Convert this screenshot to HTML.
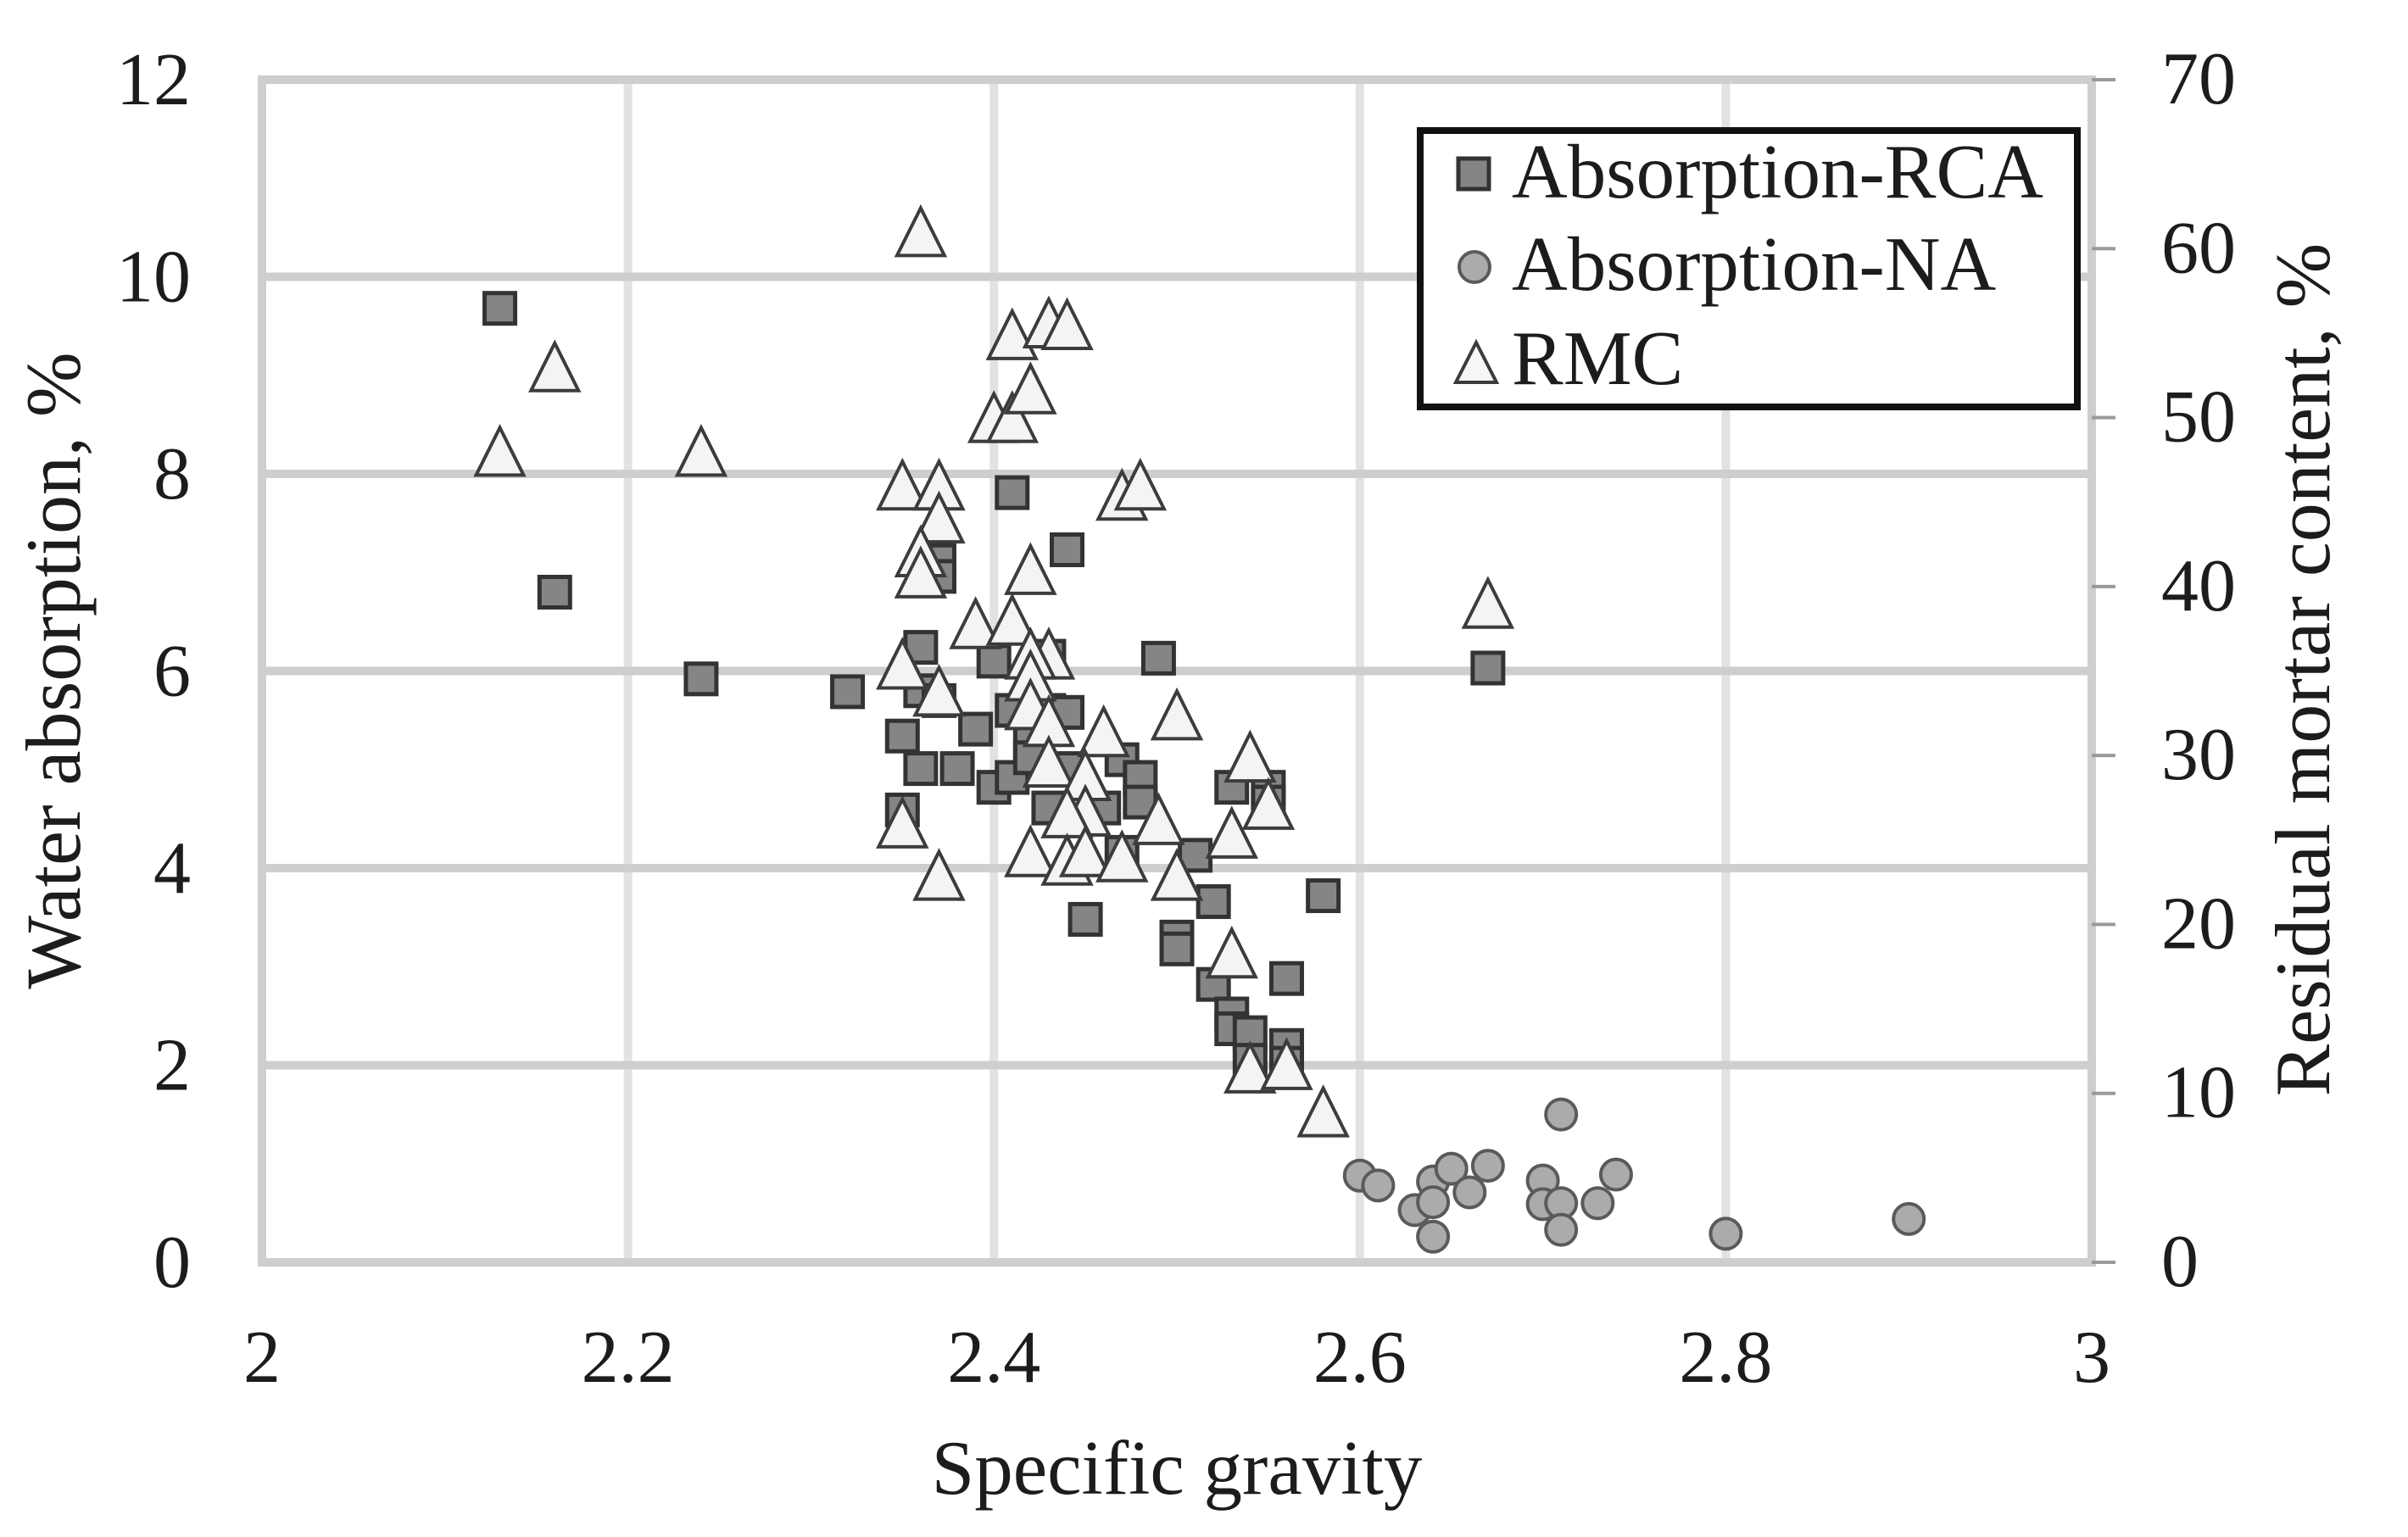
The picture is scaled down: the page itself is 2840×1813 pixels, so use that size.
<!DOCTYPE html>
<html lang="en">
<head>
<meta charset="utf-8">
<title>Water absorption and residual mortar content vs specific gravity</title>
<style>
html,body{margin:0;padding:0;background:#fff;}
svg{display:block;}
text{font-family:"Liberation Serif",serif;fill:#1c1c1c;}
</style>
</head>
<body>
<svg id="chart" xmlns="http://www.w3.org/2000/svg" width="2840" height="1813" viewBox="0 0 2840 1813">
  <rect x="0" y="0" width="2840" height="1813" fill="#ffffff"/>
  <g id="grid"></g>
  <g id="ticks"></g>
  <g id="rca"></g>
  <g id="na"></g>
  <g id="rmc"></g>
  <text x="1388" y="1762" font-size="91" text-anchor="middle">Specific gravity</text>
  <text transform="translate(94 791) rotate(-90)" font-size="92" text-anchor="middle">Water absorption, %</text>
  <text transform="translate(2747 790) rotate(-90)" font-size="92" text-anchor="middle">Residual mortar content, %</text>
  <g>
    <rect x="1675" y="154" width="775" height="326" fill="#ffffff" stroke="#111111" stroke-width="8"/>
    <rect x="1720" y="187" width="36" height="36" fill="#858585" stroke="#333333" stroke-width="5"/>
    <circle cx="1739" cy="315" r="18" fill="#ababab" stroke="#5a5a5a" stroke-width="4"/>
    <polygon points="1741,404 1765,451 1717,451" fill="#f6f6f6" stroke="#3c3c3c" stroke-width="4"/>
    <text x="1783" y="233" font-size="91">Absorption-RCA</text>
    <text x="1783" y="342" font-size="91">Absorption-NA</text>
    <text x="1783" y="453" font-size="91">RMC</text>
  </g>
</svg>
<script>
const xTickLabels = ["2", "2.2", "2.4", "2.6", "2.8", "3"];
const leftTickLabels = ["0", "2", "4", "6", "8", "10", "12"];
const rightTickLabels = ["0", "10", "20", "30", "40", "50", "60", "70"];

const rcaGravity = [2.13,2.16,2.24,2.32,2.35,2.35,2.36,2.36,2.36,2.37,2.37,2.37,2.38,2.39,2.40,2.40,2.41,2.41,2.41,2.42,2.42,2.43,2.43,2.43,2.44,2.44,2.44,2.45,2.46,2.47,2.47,2.48,2.48,2.49,2.50,2.50,2.51,2.52,2.52,2.53,2.53,2.53,2.54,2.54,2.55,2.55,2.56,2.56,2.56,2.58,2.67];
const rcaAbsorption = [9.68,6.8,5.92,5.79,5.34,4.59,5.01,6.24,5.8,5.7,7.12,6.96,5.01,5.41,6.1,4.82,7.81,5.6,4.92,5.28,5.12,6.15,5.6,4.61,7.23,5.58,5.01,3.48,4.61,5.1,4.16,4.92,4.67,6.13,3.3,3.18,4.13,3.66,2.82,4.82,2.52,2.37,2.33,2.05,4.82,4.67,2.88,2.2,2.02,3.72,6.03];

const naGravity = [2.60,2.61,2.63,2.64,2.64,2.64,2.65,2.66,2.67,2.70,2.70,2.71,2.71,2.71,2.73,2.74,2.80,2.90];
const naAbsorption = [0.88,0.78,0.53,0.82,0.61,0.26,0.95,0.71,0.98,0.83,0.59,1.5,0.6,0.33,0.6,0.89,0.29,0.44];

const rmcGravity = [2.13,2.16,2.24,2.35,2.37,2.37,2.36,2.36,2.47,2.48,2.42,2.39,2.41,2.43,2.42,2.42,2.35,2.37,2.42,2.43,2.46,2.50,2.54,2.43,2.45,2.45,2.44,2.49,2.55,2.53,2.42,2.44,2.45,2.47,2.50,2.35,2.37,2.36,2.41,2.43,2.44,2.40,2.41,2.42,2.67,2.53,2.54,2.56,2.58];
const rmcContent = [48,53,48,46,46,44.05,42.05,40.8,45.4,46,41,37.8,38,36,36,34.7,35.4,33.8,33,32,31.4,32.4,29.9,29.6,28.8,26.7,26.6,26.2,27.1,25.4,24.3,23.8,24.3,24,22.9,26,22.9,61,54.9,55.6,55.5,50,50,51.7,39,18.3,11.5,11.7,8.9];

const NS = "http://www.w3.org/2000/svg";
const plotLeft = 309, plotRight = 2467, plotTop = 94, plotBottom = 1489;
function xScale(v){ return plotLeft + (v - 2) / (3 - 2) * (plotRight - plotLeft); }
function yLeft(v){ return plotBottom - v / 12 * (plotBottom - plotTop); }
function yRight(v){ return plotBottom - v / 70 * (plotBottom - plotTop); }
function make(tag, parent, attrs){
  const el = document.createElementNS(NS, tag);
  for (const k in attrs) el.setAttribute(k, attrs[k]);
  parent.appendChild(el);
  return el;
}

const grid = document.getElementById("grid");
const ticks = document.getElementById("ticks");

xTickLabels.forEach(function(t){
  const px = xScale(parseFloat(t));
  const line = make("rect", grid, {x: px - 5, y: plotTop - 5, width: 10, height: plotBottom - plotTop + 10, fill: (t === "2" || t === "3") ? "#cecece" : "#e2e2e2"});
  
  
  const label = make("text", ticks, {x: px, y: 1630, "font-size": 88, "text-anchor": "middle"});
  label.textContent = t;
  
  
});

leftTickLabels.forEach(function(t){
  const py = yLeft(parseFloat(t));
  const line = make("rect", grid, {x: plotLeft - 5, y: py - 5, width: plotRight - plotLeft + 10, height: 10, fill: "#cecece"});
  
  
  const label = make("text", ticks, {x: 225, y: py + 29, "font-size": 88, "text-anchor": "end"});
  label.textContent = t;
  
  
});

rightTickLabels.forEach(function(t){
  const py = yRight(parseFloat(t));
  const mark = make("rect", ticks, {x: plotRight, y: py - 2, width: 28, height: 4, fill: "#9a9a9a"});
  
  
  const label = make("text", ticks, {x: 2549, y: py + 28, "font-size": 88, "text-anchor": "start"});
  label.textContent = t;
  
  
});

const rcaGroup = document.getElementById("rca");
rcaGravity.forEach(function(g, i){
  const cx = xScale(g), cy = yLeft(rcaAbsorption[i]);
  const m = make("rect", rcaGroup, {x: cx - 18, y: cy - 18, width: 36, height: 36, fill: "#858585", stroke: "#333333", "stroke-width": 5});
  
  
});

const naGroup = document.getElementById("na");
naGravity.forEach(function(g, i){
  const cx = xScale(g), cy = yLeft(naAbsorption[i]);
  const m = make("circle", naGroup, {cx: cx, cy: cy, r: 18, fill: "#ababab", stroke: "#5a5a5a", "stroke-width": 4});
  
  
});

const rmcGroup = document.getElementById("rmc");
rmcGravity.forEach(function(g, i){
  const cx = xScale(g), cy = yRight(rmcContent[i]);
  const pts = [[cx, cy - 28], [cx + 28, cy + 28], [cx - 28, cy + 28]].map(function(p){ return p.join(","); }).join(" ");
  const m = make("polygon", rmcGroup, {points: pts, fill: "#f4f4f4", stroke: "#3c3c3c", "stroke-width": 4});
  
  
});
</script>
</body>
</html>
